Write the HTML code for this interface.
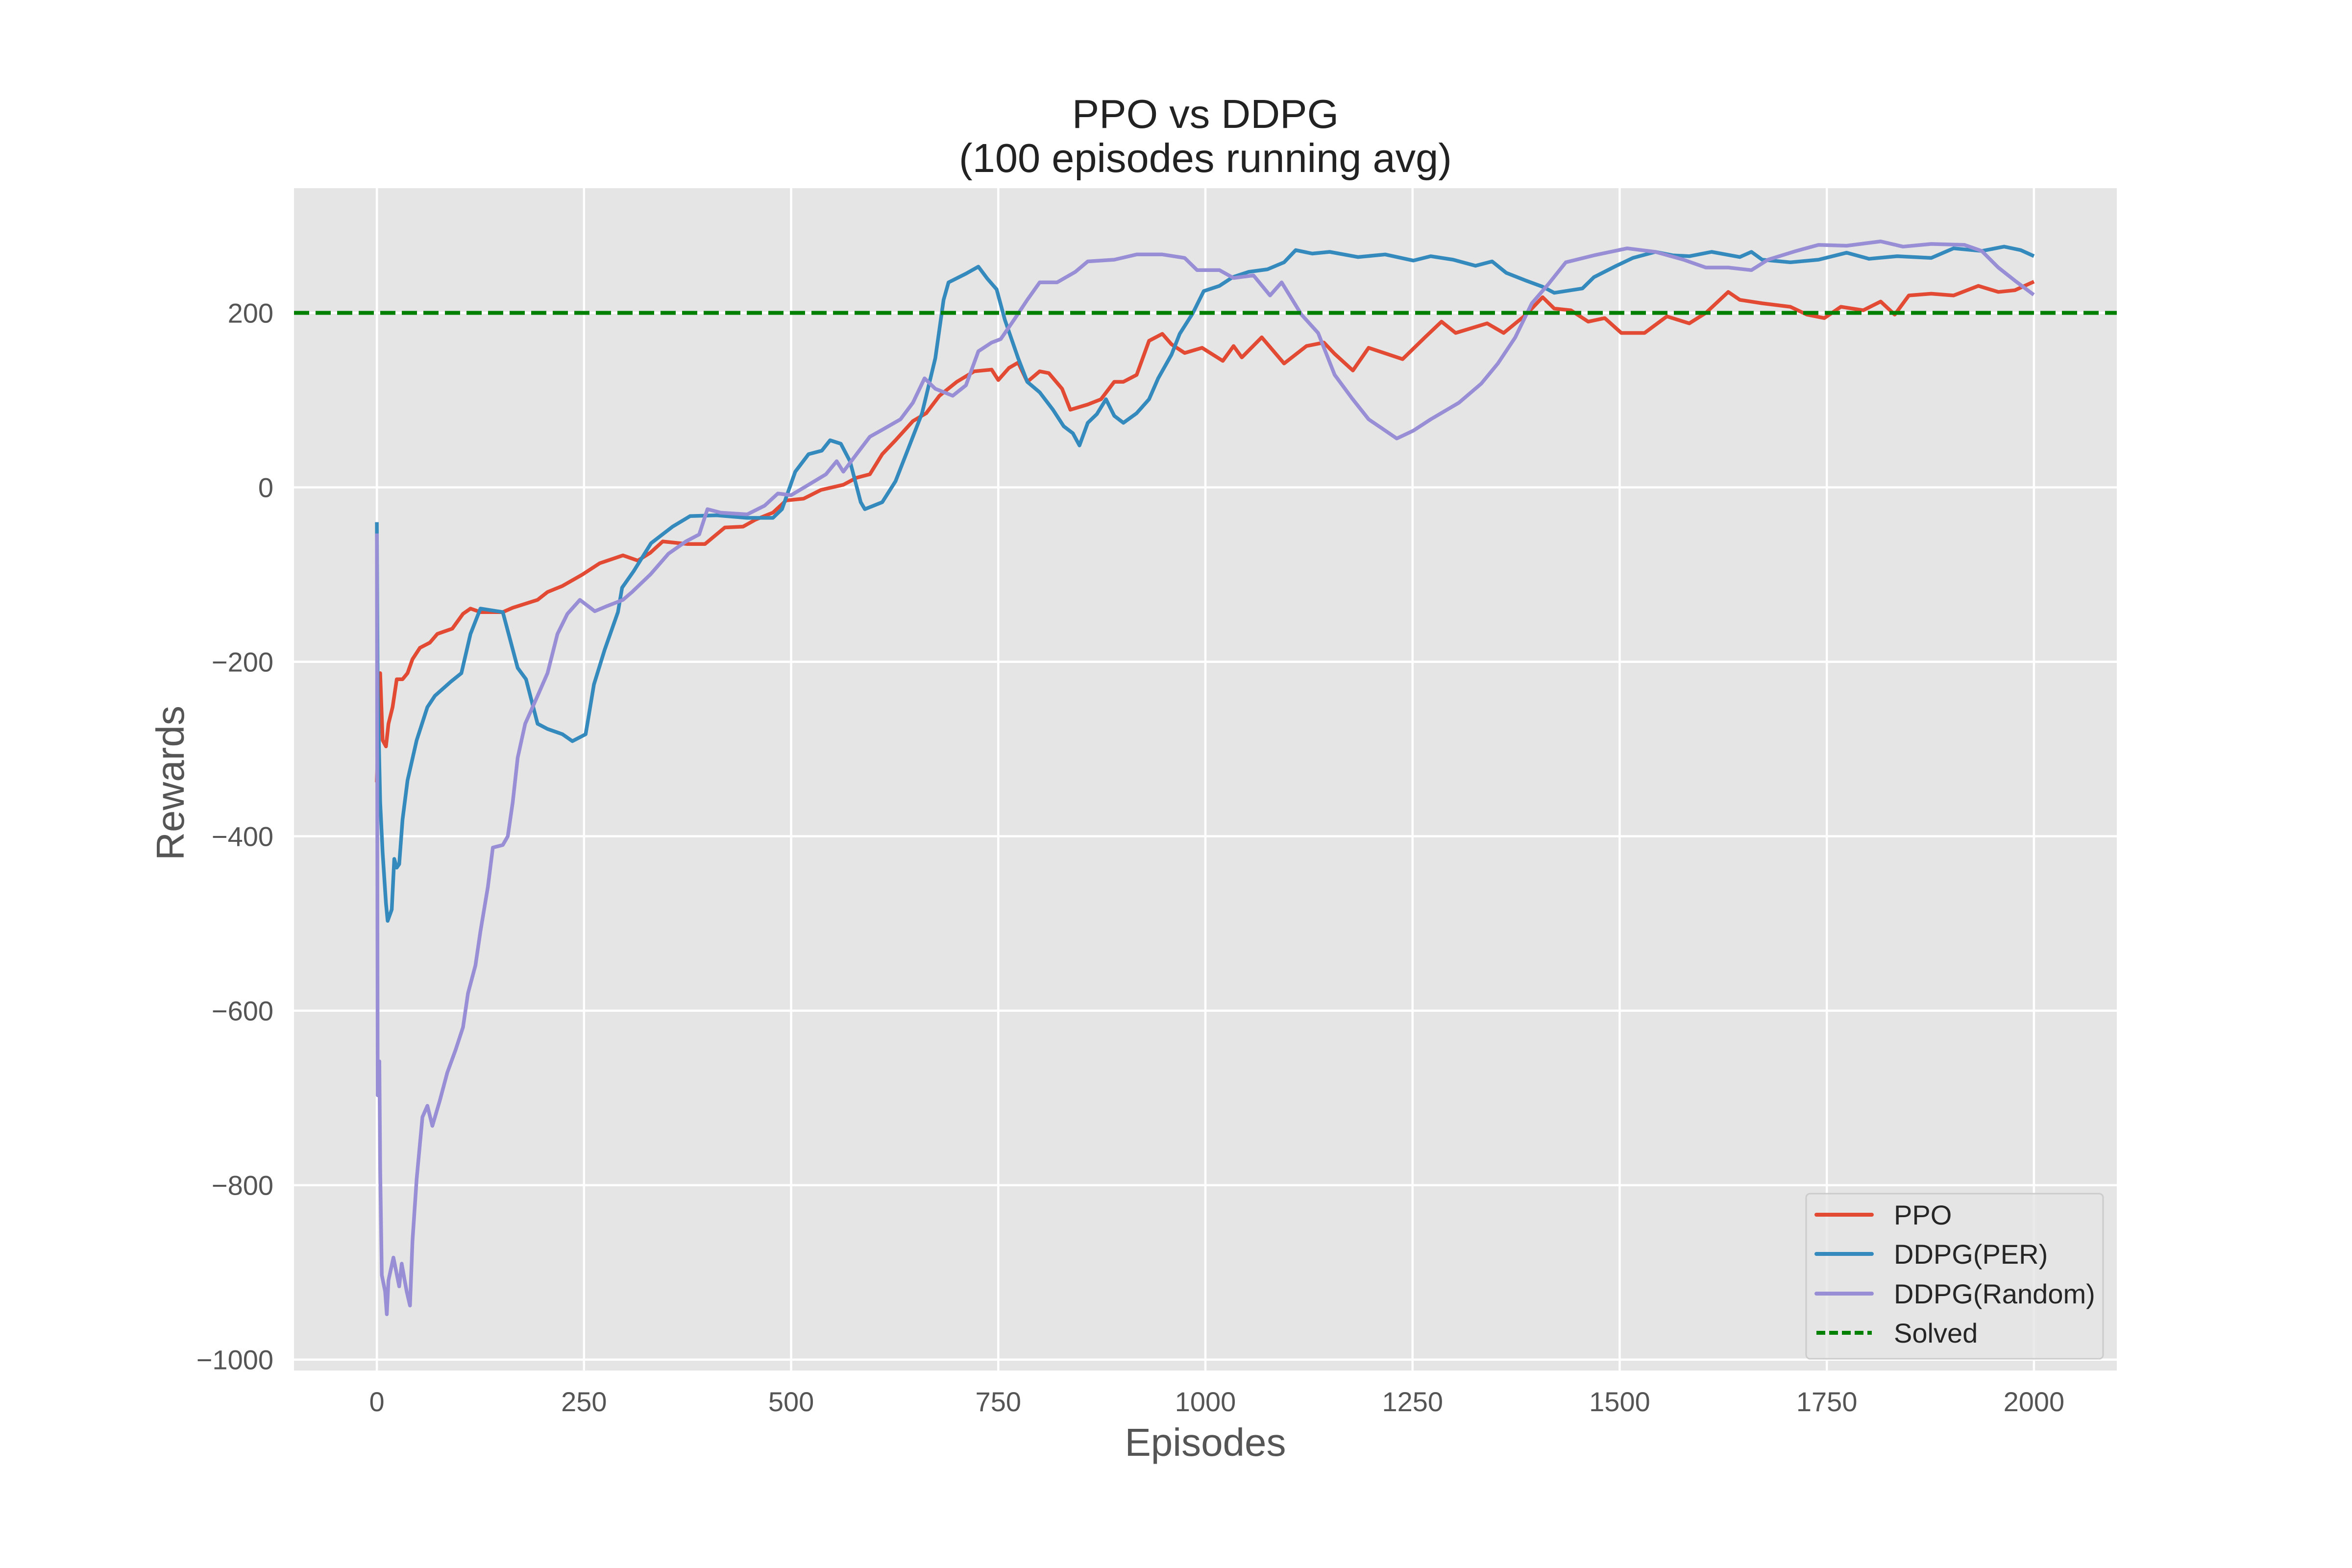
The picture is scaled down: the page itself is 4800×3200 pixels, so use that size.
<!DOCTYPE html>
<html><head><meta charset="utf-8"><style>html,body{margin:0;padding:0;background:#fff}svg{display:block}</style></head>
<body>
<svg id="chart" width="4800" height="3200" viewBox="0 0 4800 3200" xmlns="http://www.w3.org/2000/svg" font-family="'Liberation Sans', Arial, sans-serif">
<rect x="0" y="0" width="4800" height="3200" fill="#ffffff"/>
<rect x="600" y="384" width="3720" height="2413" fill="#E5E5E5"/>
<g id="grid"></g>
<g id="series"></g>
<g id="ticks"></g>
<text x="2460" y="261" font-size="83" fill="#222" text-anchor="middle">PPO vs DDPG</text>
<text x="2460" y="351" font-size="83" fill="#222" text-anchor="middle">(100 episodes running avg)</text>
<text x="2460" y="2971" font-size="80" fill="#555" text-anchor="middle">Episodes</text>
<text x="375" y="1598" font-size="80" fill="#555" text-anchor="middle" transform="rotate(-90 375 1598)">Rewards</text>
<g>
<rect x="3686" y="2436" width="606" height="337" rx="8" fill="#E5E5E5" fill-opacity="0.8" stroke="#cccccc" stroke-width="3"/>
<line x1="3707" y1="2479" x2="3820" y2="2479" stroke="#E24A33" stroke-width="8" stroke-linecap="round"/>
<text x="3865" y="2499" font-size="56" fill="#262626">PPO</text>
<line x1="3707" y1="2559" x2="3820" y2="2559" stroke="#348ABD" stroke-width="8" stroke-linecap="round"/>
<text x="3865" y="2579" font-size="56" fill="#262626">DDPG(PER)</text>
<line x1="3707" y1="2640" x2="3820" y2="2640" stroke="#988ED5" stroke-width="8" stroke-linecap="round"/>
<text x="3865" y="2660" font-size="56" fill="#262626">DDPG(Random)</text>
<line x1="3707" y1="2720" x2="3820" y2="2720" stroke="#008000" stroke-width="8" stroke-dasharray="18 8"/>
<text x="3865" y="2740" font-size="56" fill="#262626">Solved</text>
</g>
</svg>
<script>
const xTicks = [0, 250, 500, 750, 1000, 1250, 1500, 1750, 2000];
const yTicks = [-1000, -800, -600, -400, -200, 0, 200];
const yTickLabels = ["\u22121000", "\u2212800", "\u2212600", "\u2212400", "\u2212200", "0", "200"];
const solvedLevel = 200;

const ppoEpisodes = [0,4,7,11,14,19,24,31,37,43,52,64,73,82,91,104,113,125,152,164,194,206,224,248,269,297,315,330,345,375,396,420,442,457,478,494,515,536,563,579,595,610,626,647,663,679,700,721,742,750,763,774,785,800,811,827,837,858,874,890,901,917,932,948,959,975,996,1021,1034,1044,1068,1095,1122,1143,1156,1178,1197,1238,1265,1285,1302,1340,1360,1387,1407,1421,1441,1462,1482,1502,1530,1557,1584,1604,1631,1645,1672,1706,1726,1747,1767,1794,1815,1832,1849,1876,1903,1933,1957,1977,1998];
const ppoRewards = [-336,-213,-290,-297,-271,-252,-220,-220,-213,-197,-184,-178,-168,-165,-162,-145,-139,-143,-143,-138,-129,-120,-113,-100,-87,-78,-84,-75,-62,-65,-65,-46,-45,-37,-29,-15,-13,-3,3,11,15,38,54,76,85,105,121,133,135,123,137,143,121,133,131,113,89,95,101,121,121,129,168,176,164,154,160,145,162,149,172,142,162,166,153,134,160,147,172,190,177,188,177,198,218,205,203,190,194,177,177,196,188,200,224,215,211,207,198,194,207,203,213,198,220,222,220,231,224,226,235];

const perEpisodes = [0,1,4,7,11,13,18,21,24,27,31,37,48,61,70,89,102,113,125,152,161,170,180,194,206,224,236,252,262,275,291,296,310,331,357,378,410,447,478,489,505,521,537,547,560,571,584,589,610,626,642,658,674,684,690,711,726,737,748,758,774,785,800,816,829,840,848,858,869,880,890,901,917,932,943,959,969,985,998,1017,1033,1052,1075,1095,1109,1129,1150,1184,1217,1251,1272,1299,1326,1346,1363,1387,1407,1421,1455,1469,1496,1516,1543,1564,1584,1611,1645,1659,1672,1706,1740,1774,1801,1835,1876,1903,1937,1964,1984,1998];
const perRewards = [-42,-232,-361,-419,-477,-497,-484,-426,-436,-432,-381,-336,-290,-252,-239,-223,-213,-168,-139,-143,-175,-207,-220,-271,-277,-283,-291,-283,-226,-186,-143,-115,-96,-64,-45,-33,-32,-35,-35,-25,18,38,42,54,50,30,-17,-25,-17,7,46,85,148,215,235,245,253,239,227,192,148,121,109,89,70,62,48,74,84,101,82,74,85,101,125,152,176,200,225,231,241,247,250,258,272,268,270,264,267,260,265,261,254,259,246,237,230,223,228,241,254,263,270,266,265,270,264,270,261,258,261,269,262,265,263,274,271,276,272,266];

const randEpisodes = [0,1,3,4,6,10,12,14,20,27,30,36,40,43,48,55,61,67,76,85,95,104,110,119,125,134,140,152,158,164,170,179,194,206,218,230,245,263,278,297,308,330,352,373,389,399,415,447,468,484,500,521,542,555,563,579,595,610,632,647,661,674,695,711,726,742,753,769,785,800,821,843,858,890,917,948,975,990,1017,1034,1058,1078,1092,1116,1136,1156,1177,1197,1211,1231,1251,1272,1306,1333,1353,1374,1394,1414,1435,1469,1509,1543,1577,1604,1631,1659,1679,1713,1740,1774,1815,1842,1876,1916,1937,1957,1977,1998];
const randRewards = [-55,-697,-658,-781,-903,-922,-948,-909,-883,-916,-890,-922,-938,-864,-793,-722,-709,-732,-703,-671,-645,-619,-580,-548,-509,-458,-413,-410,-400,-361,-310,-271,-239,-213,-168,-145,-129,-142,-136,-129,-120,-100,-76,-62,-54,-25,-29,-31,-21,-7,-9,3,15,30,18,38,58,66,78,97,125,113,105,117,156,166,170,192,215,235,235,247,259,261,267,267,263,249,249,240,243,220,235,198,177,129,102,78,69,56,65,78,97,119,142,172,211,233,258,266,274,270,261,252,252,249,261,271,278,277,282,276,279,278,271,252,237,222];

const NS = "http://www.w3.org/2000/svg";
const X0 = 600, X1 = 4320, Y0 = 384, Y1 = 2797;
const xMin = -100, xMax = 2100, yMin = -1012.5, yMax = 343;
function xScale(v){ return X0 + (v - xMin) / (xMax - xMin) * (X1 - X0); }
function yScale(v){ return Y1 - (v - yMin) / (yMax - yMin) * (Y1 - Y0); }

const grid = document.getElementById('grid');
const ticks = document.getElementById('ticks');
const series = document.getElementById('series');

xTicks.forEach(function(t){
  const l = document.createElementNS(NS, 'line');
  
  
  l.setAttribute('x1', xScale(t)); l.setAttribute('x2', xScale(t));
  l.setAttribute('y1', Y0); l.setAttribute('y2', Y1);
  l.setAttribute('stroke', '#ffffff'); l.setAttribute('stroke-width', '4.5');
  grid.appendChild(l);
  const tx = document.createElementNS(NS, 'text');
  
  
  tx.setAttribute('x', xScale(t)); tx.setAttribute('y', 2880);
  tx.setAttribute('font-size', '56'); tx.setAttribute('fill', '#555');
  tx.setAttribute('text-anchor', 'middle');
  tx.textContent = String(t);
  ticks.appendChild(tx);
});
yTicks.forEach(function(t, i){
  const l = document.createElementNS(NS, 'line');
  
  
  l.setAttribute('x1', X0); l.setAttribute('x2', X1);
  l.setAttribute('y1', yScale(t)); l.setAttribute('y2', yScale(t));
  l.setAttribute('stroke', '#ffffff'); l.setAttribute('stroke-width', '4.5');
  grid.appendChild(l);
  const tx = document.createElementNS(NS, 'text');
  
  
  tx.setAttribute('x', 558); tx.setAttribute('y', yScale(t) + 20);
  tx.setAttribute('font-size', '56'); tx.setAttribute('fill', '#555');
  tx.setAttribute('text-anchor', 'end');
  tx.textContent = yTickLabels[i];
  ticks.appendChild(tx);
});

function drawLine(eps, vals, color, name){
  const n = Math.min(eps.length, vals.length);
  let d = '';
  for (let i = 0; i < n; i++) d += (i ? 'L' : 'M') + xScale(eps[i]).toFixed(1) + ',' + yScale(vals[i]).toFixed(1);
  const p = document.createElementNS(NS, 'path');
  
  
  p.setAttribute('d', d);
  p.setAttribute('fill', 'none'); p.setAttribute('stroke', color);
  p.setAttribute('stroke-width', '7.5'); p.setAttribute('stroke-linejoin', 'round'); p.setAttribute('stroke-linecap', 'square');
  series.appendChild(p);
}
drawLine(ppoEpisodes, ppoRewards, '#E24A33', 'ppo-line');
drawLine(perEpisodes, perRewards, '#348ABD', 'ddpg-per-line');
drawLine(randEpisodes, randRewards, '#988ED5', 'ddpg-random-line');

const s = document.createElementNS(NS, 'line');


s.setAttribute('x1', X0); s.setAttribute('x2', X1);
s.setAttribute('y1', yScale(solvedLevel)); s.setAttribute('y2', yScale(solvedLevel));
s.setAttribute('stroke', '#008000'); s.setAttribute('stroke-width', '8'); s.setAttribute('stroke-dasharray', '31 13');
series.appendChild(s);
</script>
</body></html>
